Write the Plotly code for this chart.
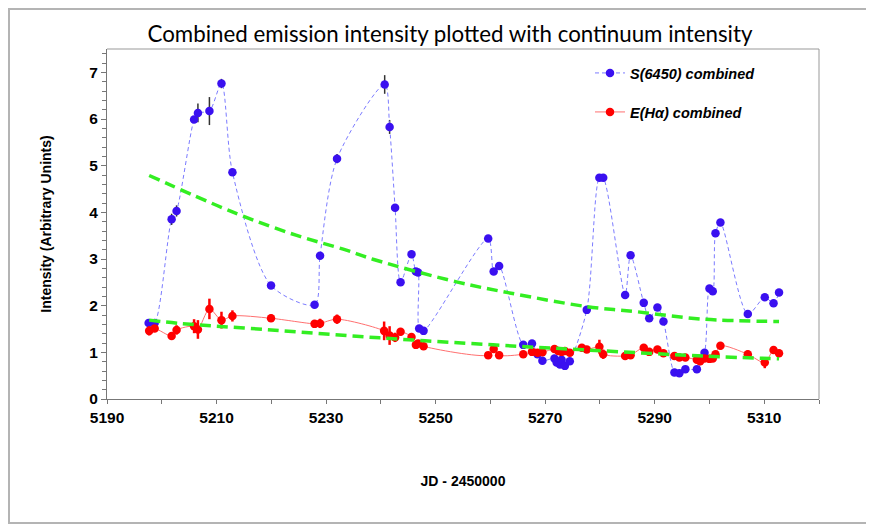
import plotly.graph_objects as go

# S(6450) combined (blue)
s_x = [5197.6, 5198.7, 5201.8, 5202.7, 5205.9, 5206.6, 5208.7, 5210.9, 5212.9,
       5219.95, 5227.9, 5228.9, 5232.0, 5240.7, 5241.6, 5242.6, 5243.6, 5245.6,
       5246.4, 5246.8, 5247.0, 5247.8, 5259.6, 5260.6, 5261.6, 5266.0, 5267.6,
       5268.6, 5269.5, 5271.7, 5272.1, 5272.7, 5273.0, 5273.6, 5274.5, 5277.6,
       5279.9, 5280.6, 5284.6, 5285.6, 5288.0, 5289.0, 5290.5, 5291.6, 5293.6,
       5294.5, 5295.6, 5297.7, 5299.1, 5300.0, 5300.6, 5301.1, 5302.0, 5307.0,
       5310.1, 5311.7, 5312.7]
s_y = [1.63, 1.63, 3.85, 4.03, 5.99, 6.13, 6.17, 6.76, 4.86,
       2.43, 2.02, 3.07, 5.15, 6.74, 5.83, 4.10, 2.50, 3.10,
       2.73, 2.71, 1.51, 1.46, 3.44, 2.73, 2.85, 1.16, 1.19,
       0.96, 0.82, 0.87, 0.78, 0.74, 0.84, 0.71, 0.81, 1.91,
       4.74, 4.74, 2.23, 3.08, 2.06, 1.73, 1.96, 1.66, 0.57,
       0.55, 0.64, 0.64, 0.99, 2.37, 2.31, 3.55, 3.78, 1.82,
       2.18, 2.05, 2.28]
s_err = [0.04, 0.04, 0.12, 0.12, 0.04, 0.2, 0.3, 0.1, 0.04,
         0.04, 0.04, 0.04, 0.1, 0.2, 0.15, 0.05, 0.04, 0.08,
         0.04, 0.04, 0.04, 0.04, 0.04, 0.04, 0.04, 0.04, 0.04,
         0.04, 0.04, 0.04, 0.04, 0.04, 0.04, 0.04, 0.04, 0.04,
         0.04, 0.04, 0.04, 0.04, 0.04, 0.04, 0.04, 0.04, 0.04,
         0.04, 0.04, 0.04, 0.04, 0.04, 0.04, 0.04, 0.04, 0.04,
         0.04, 0.04, 0.04]

# E(Halpha) combined (red)
e_x = [5197.7, 5198.7, 5201.8, 5202.7, 5205.9, 5206.6, 5208.7, 5210.9, 5212.9,
       5219.95, 5227.9, 5228.9, 5232.0, 5240.6, 5241.6, 5242.6, 5243.6, 5245.6,
       5246.4, 5246.8, 5247.8, 5259.6, 5260.6, 5261.6, 5266.0, 5267.6, 5268.6,
       5269.5, 5271.7, 5272.4, 5273.0, 5273.6, 5274.5, 5276.7, 5277.6, 5279.9,
       5280.6, 5284.6, 5285.6, 5288.0, 5289.0, 5290.5, 5291.6, 5293.6, 5294.5,
       5295.6, 5297.7, 5298.3, 5299.1, 5300.0, 5300.6, 5301.1, 5302.0, 5307.0,
       5310.1, 5311.7, 5312.7]
e_y = [1.46, 1.51, 1.35, 1.48, 1.56, 1.49, 1.93, 1.69, 1.78,
       1.73, 1.61, 1.62, 1.71, 1.46, 1.36, 1.32, 1.44, 1.33,
       1.16, 1.19, 1.13, 0.94, 1.07, 0.94, 0.96, 1.01, 0.99,
       1.00, 1.07, 1.03, 1.01, 1.03, 0.99, 1.10, 1.06, 1.12,
       0.96, 0.92, 0.94, 1.10, 1.01, 1.06, 0.98, 0.92, 0.89,
       0.89, 0.84, 0.81, 0.87, 0.86, 0.87, 0.96, 1.14, 0.96,
       0.78, 1.05, 0.98]
e_err = [0.1, 0.06, 0.08, 0.1, 0.15, 0.2, 0.22, 0.18, 0.12,
         0.08, 0.05, 0.1, 0.1, 0.2, 0.2, 0.1, 0.08, 0.06,
         0.06, 0.05, 0.04, 0.05, 0.08, 0.08, 0.04, 0.05, 0.04,
         0.04, 0.05, 0.04, 0.04, 0.04, 0.04, 0.04, 0.04, 0.15,
         0.1, 0.05, 0.06, 0.04, 0.04, 0.04, 0.04, 0.04, 0.04,
         0.04, 0.04, 0.04, 0.04, 0.04, 0.04, 0.05, 0.08, 0.08,
         0.12, 0.04, 0.04]

# continuum trend lines (green dashed)
cu_x = [5197.7, 5212.9, 5224.5, 5233.7, 5238.7, 5253.8, 5263.2, 5277.6, 5286.7, 5298.9, 5312.7]
cu_y = [4.79, 4.01, 3.51, 3.19, 2.99, 2.51, 2.28, 1.98, 1.87, 1.71, 1.66]
cl_x = [5197.7, 5203.2, 5220.0, 5239.8, 5260.5, 5277.6, 5298.9, 5312.7]
cl_y = [1.69, 1.62, 1.48, 1.31, 1.16, 1.05, 0.92, 0.86]

GREEN = "#33ee22"
W, H = 866, 524
L, R, T, B = 99, 55, 41, 133
PW, PH = W - L - R, H - T - B

fig = go.Figure()
fig.add_trace(go.Scatter(
    x=s_x, y=s_y, mode="lines+markers", name="S(6450) combined",
    line=dict(color="#7b7bff", width=1, dash="4px,3px", shape="spline", smoothing=0.8),
    marker=dict(color="#3a10f0", size=8.5),
    error_y=dict(type="data", array=s_err, color="#333333", thickness=1.5, width=0),
    legend="legend"))
fig.add_trace(go.Scatter(
    x=e_x, y=e_y, mode="lines+markers", name="E(Hα) combined",
    line=dict(color="#ff7070", width=1, shape="spline", smoothing=0.8),
    marker=dict(color="#ff0000", size=8.5),
    error_y=dict(type="data", array=e_err, color="#ff0000", thickness=2.5, width=0),
    legend="legend2"))
fig.add_trace(go.Scatter(
    x=cu_x, y=cu_y, mode="lines", showlegend=False, hoverinfo="skip",
    line=dict(color=GREEN, width=3.5, dash="11px,6px", shape="spline")))
fig.add_trace(go.Scatter(
    x=cl_x, y=cl_y, mode="lines", showlegend=False, hoverinfo="skip",
    line=dict(color=GREEN, width=3.5, dash="11px,6px", shape="spline")))

narrow = "Liberation Sans Narrow, Arial Narrow, Arial"
legfont = dict(family="Liberation Sans, Arial", size=14.5, color="black", weight="bold", style="italic")
leg_x = (582 - L) / PW

fig.update_layout(
    width=W, height=H,
    margin=dict(l=L, r=R, t=T, b=B),
    paper_bgcolor="white", plot_bgcolor="white",
    title=dict(text="Combined emission intensity plotted with continuum intensity",
               x=442 / W, xanchor="center", y=1 - 26 / H, yanchor="middle",
               font=dict(family="Lato, Open Sans, sans-serif", size=22.3, color="black")),
    xaxis=dict(range=[5190, 5320], tickvals=[5190, 5210, 5230, 5250, 5270, 5290, 5310],
               ticks="outside", ticklen=4, tickcolor="#777777", showgrid=False, zeroline=False,
               showline=True, linecolor="#777777", linewidth=1,
               tickfont=dict(family=narrow, size=15.5, color="black", weight="bold"),
               minor=dict(dtick=10, ticks="outside", ticklen=4, tickcolor="#777777"),
               title=dict(text="<b>JD - 2450000</b>", standoff=51,
                          font=dict(family=narrow, size=14, color="black"))),
    yaxis=dict(range=[0, 7.5], tickvals=[0, 1, 2, 3, 4, 5, 6, 7],
               ticks="outside", ticklen=5, tickcolor="#777777", showgrid=False, zeroline=False,
               showline=True, linecolor="#777777", linewidth=1,
               tickfont=dict(family=narrow, size=15.5, color="black", weight="bold"),
               minor=dict(dtick=0.2, ticks="outside", ticklen=4, tickcolor="#777777"),
               title=dict(text="<b>Intensity (Arbitrary Unints)</b>", standoff=34,
                          font=dict(family=narrow, size=14, color="black"))),
    legend=dict(x=leg_x, y=1 - (65 - T) / PH, xanchor="left", yanchor="middle",
                bgcolor="rgba(0,0,0,0)", font=legfont),
    legend2=dict(x=leg_x, y=1 - (104 - T) / PH, xanchor="left", yanchor="middle",
                 bgcolor="rgba(0,0,0,0)", font=legfont),
    showlegend=True,
)

# right and top border of plot area (gray)
fig.add_shape(type="line", xref="paper", yref="paper", x0=0, x1=1, y0=1, y1=1,
              line=dict(color="#999999", width=1))
fig.add_shape(type="line", xref="paper", yref="paper", x0=1, x1=1, y0=0, y1=1,
              line=dict(color="#999999", width=1))
# outer chart frame
fig.add_shape(type="rect", xref="paper", yref="paper",
              x0=(1 - L) / PW, x1=(859 - L) / PW,
              y0=(PH + T - 515) / PH, y1=(PH + T - 1) / PH,
              line=dict(color="#b4b4b4", width=2), layer="below")

fig.write_html("out.html")
